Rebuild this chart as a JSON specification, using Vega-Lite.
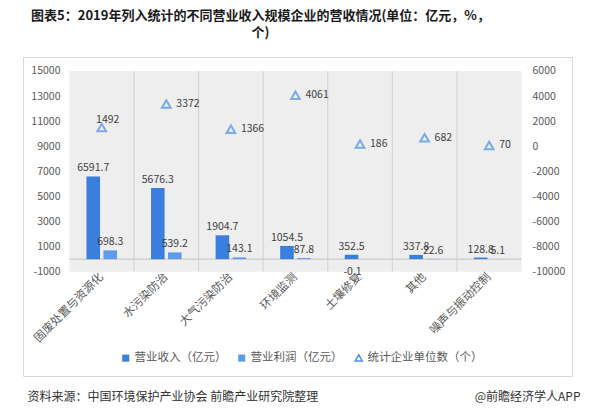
{
  "$schema": "https://vega.github.io/schema/vega-lite/v6.json",
  "width": 549,
  "height": 319,
  "autosize": {"type": "none"},
  "padding": {"left": 23, "top": 57, "right": 28, "bottom": 39},
  "background": "white",
  "config": {
    "font": "Noto Sans CJK SC",
    "view": {"stroke": "#d9d9d9", "strokeWidth": 1},
    "axis": {"labelOverlap": false}
  },
  "title": {
    "text": ["图表5：2019年列入统计的不同营业收入规模企业的营收情况(单位：亿元，%，", "个)"],
    "fontSize": 13, "fontWeight": "bold", "color": "#1a1a1a", "font": "Noto Sans CJK SC",
    "anchor": "middle", "dx": -37, "offset": 17, "lineHeight": 17
  },
  "datasets": {
    "cats": [
      {"cat": "固废处置与资源化"}, {"cat": "水污染防治"}, {"cat": "大气污染防治"}, {"cat": "环境监测"},
      {"cat": "土壤修复"}, {"cat": "其他"}, {"cat": "噪声与振动控制"}
    ],
    "fin": [
      {"cat": "固废处置与资源化", "series": "营业收入（亿元）", "value": 6591.7},
      {"cat": "固废处置与资源化", "series": "营业利润（亿元）", "value": 698.3},
      {"cat": "水污染防治", "series": "营业收入（亿元）", "value": 5676.3},
      {"cat": "水污染防治", "series": "营业利润（亿元）", "value": 539.2},
      {"cat": "大气污染防治", "series": "营业收入（亿元）", "value": 1904.7},
      {"cat": "大气污染防治", "series": "营业利润（亿元）", "value": 143.1},
      {"cat": "环境监测", "series": "营业收入（亿元）", "value": 1054.5},
      {"cat": "环境监测", "series": "营业利润（亿元）", "value": 87.8},
      {"cat": "土壤修复", "series": "营业收入（亿元）", "value": 352.5},
      {"cat": "土壤修复", "series": "营业利润（亿元）", "value": -0.1},
      {"cat": "其他", "series": "营业收入（亿元）", "value": 337.8},
      {"cat": "其他", "series": "营业利润（亿元）", "value": 22.6},
      {"cat": "噪声与振动控制", "series": "营业收入（亿元）", "value": 128.8},
      {"cat": "噪声与振动控制", "series": "营业利润（亿元）", "value": 5.1}
    ],
    "cnt": [
      {"cat": "固废处置与资源化", "count": 1492},
      {"cat": "水污染防治", "count": 3372},
      {"cat": "大气污染防治", "count": 1366},
      {"cat": "环境监测", "count": 4061},
      {"cat": "土壤修复", "count": 186},
      {"cat": "其他", "count": 682},
      {"cat": "噪声与振动控制", "count": 70}
    ]
  },
  "resolve": {"scale": {"y": "independent"}, "axis": {"x": "independent"}},
  "layer": [
    {
      "layer": [
        {
          "data": {"name": "cats"},
          "mark": {"type": "rect", "fill": "#eeeeee"},
          "encoding": {
            "x": {
              "field": "cat", "type": "nominal",
              "scale": {
                "domain": ["固废处置与资源化", "水污染防治", "大气污染防治", "环境监测", "土壤修复", "其他", "噪声与振动控制"],
                "paddingInner": 0, "paddingOuter": 0.751, "align": 0.479
              },
              "axis": {
                "orient": "bottom", "offset": -104, "domain": false, "ticks": false, "grid": false,
                "labelAngle": -45, "labelAlign": "right", "labelBaseline": "middle", "labelPadding": 3,
                "labelFontSize": 11.5, "labelColor": "#595959", "labelOverlap": false,
                "title": "资料来源：中国环境保护产业协会 前瞻产业研究院整理",
                "titleX": 4, "titleY": 124, "titleAlign": "left", "titleBaseline": "middle",
                "titleFontSize": 12, "titleFontWeight": "normal", "titleColor": "#333333"
              }
            },
            "y": {
              "datum": 15000, "type": "quantitative",
              "scale": {"domain": [-9315, 16116], "nice": false, "zero": false},
              "axis": {
                "orient": "left", "values": [-1000, 1000, 3000, 5000, 7000, 9000, 11000, 13000, 15000],
                "tickCount": 30, "labelExpr": "'' + datum.value", "labelOverlap": false,
                "title": null, "domain": false, "ticks": false, "grid": false, "offset": -39,
                "labelPadding": 2, "labelFontSize": 10.5, "labelColor": "#595959"
              }
            },
            "y2": {"datum": -1000}
          }
        },
        {
          "data": {"name": "cats"},
          "transform": [{"filter": "datum.cat !== '固废处置与资源化'"}],
          "mark": {"type": "rule", "stroke": "#d0d0d0", "strokeWidth": 1},
          "encoding": {
            "x": {"field": "cat", "type": "nominal", "bandPosition": 0},
            "y": {"datum": 15000, "type": "quantitative"},
            "y2": {"datum": -1000}
          }
        },
        {
          "data": {"name": "cats"},
          "mark": {"type": "rect", "fillOpacity": 0, "stroke": "#cfcfcf", "strokeWidth": 1},
          "encoding": {
            "x": {"field": "cat", "type": "nominal"},
            "y": {"datum": 0, "type": "quantitative"},
            "y2": {"datum": 0}
          }
        },
        {
          "data": {"name": "fin"},
          "mark": {"type": "bar"},
          "encoding": {
            "x": {"field": "cat", "type": "nominal"},
            "xOffset": {"field": "series", "type": "nominal", "scale": {"domain": ["营业收入（亿元）", "营业利润（亿元）"], "paddingInner": 0.2, "paddingOuter": 1.01}},
            "y": {"field": "value", "type": "quantitative"},
            "color": {
              "field": "series", "type": "nominal",
              "scale": {
                "domain": ["营业收入（亿元）", "营业利润（亿元）", "统计企业单位数（个）"],
                "range": ["#3a7fde", "#5d9cec", "#4a8fe8"]
              },
              "legend": {
                "orient": "none", "legendX": 97, "legendY": 295, "direction": "horizontal", "title": null,
                "labelFontSize": 11.5, "labelColor": "#595959", "columnPadding": 9, "labelOffset": 3,
                "symbolSize": 50,
                "encode": {
                  "symbols": {
                    "update": {
                      "shape": {"signal": "datum.value === '统计企业单位数（个）' ? 'triangle-up' : 'square'"},
                      "fill": {"signal": "datum.value === '统计企业单位数（个）' ? 'white' : scale('color', datum.value)"},
                      "fillOpacity": {"signal": "datum.value === '统计企业单位数（个）' ? 0 : 1"},
                      "stroke": {"signal": "scale('color', datum.value)"},
                      "strokeWidth": {"signal": "datum.value === '统计企业单位数（个）' ? 1.5 : 0"}
                    }
                  }
                }
              }
            }
          }
        },
        {
          "data": {"name": "fin"},
          "transform": [{"filter": "datum.value >= 0"}],
          "mark": {"type": "text", "baseline": "bottom", "dy": -3, "fontSize": 10.5, "color": "#404040"},
          "encoding": {
            "x": {"field": "cat", "type": "nominal"},
            "xOffset": {"field": "series", "type": "nominal"},
            "y": {"field": "value", "type": "quantitative"},
            "text": {"field": "value", "type": "nominal"}
          }
        },
        {
          "data": {"name": "fin"},
          "transform": [{"filter": "datum.value < 0"}],
          "mark": {"type": "text", "baseline": "top", "dy": 8, "dx": -16, "fontSize": 10.5, "color": "#404040"},
          "encoding": {
            "x": {"field": "cat", "type": "nominal"},
            "xOffset": {"field": "series", "type": "nominal"},
            "y": {"field": "value", "type": "quantitative"},
            "text": {"field": "value", "type": "nominal"}
          }
        }
      ]
    },
    {
      "layer": [
        {
          "data": {"name": "cnt"},
          "mark": {"type": "point", "shape": "triangle-up", "filled": false, "stroke": "#4a8fe8", "strokeWidth": 2, "size": 75},
          "encoding": {
            "x": {
              "field": "cat", "type": "nominal",
              "axis": {
                "orient": "top", "labels": false, "ticks": false, "domain": false, "grid": false,
                "title": "@前瞻经济学人APP", "titleX": 557, "titleY": 339, "titleAlign": "right",
                "titleBaseline": "middle", "titleFontSize": 12, "titleFontWeight": "normal", "titleColor": "#333333"
              }
            },
            "y": {
              "field": "count", "type": "quantitative",
              "scale": {"domain": [-18315, 7116], "nice": false, "zero": false},
              "axis": {
                "orient": "right", "values": [-10000, -8000, -6000, -4000, -2000, 0, 2000, 4000, 6000],
                "tickCount": 30, "labelExpr": "'' + datum.value", "labelOverlap": false,
                "title": null, "domain": false, "ticks": false, "grid": false, "offset": -42,
                "labelPadding": 2, "labelFontSize": 10.5, "labelColor": "#595959"
              }
            }
          }
        },
        {
          "data": {"name": "cnt"},
          "transform": [{"filter": "datum.cat !== '固废处置与资源化'"}],
          "mark": {"type": "text", "align": "left", "baseline": "middle", "dx": 10, "fontSize": 10.5, "color": "#404040"},
          "encoding": {
            "x": {"field": "cat", "type": "nominal"},
            "y": {"field": "count", "type": "quantitative"},
            "text": {"field": "count", "type": "nominal"}
          }
        },
        {
          "data": {"name": "cnt"},
          "transform": [{"filter": "datum.cat === '固废处置与资源化'"}],
          "mark": {"type": "text", "align": "center", "baseline": "bottom", "dx": 6, "dy": -3, "fontSize": 10.5, "color": "#404040"},
          "encoding": {
            "x": {"field": "cat", "type": "nominal"},
            "y": {"field": "count", "type": "quantitative"},
            "text": {"field": "count", "type": "nominal"}
          }
        }
      ]
    }
  ]
}
